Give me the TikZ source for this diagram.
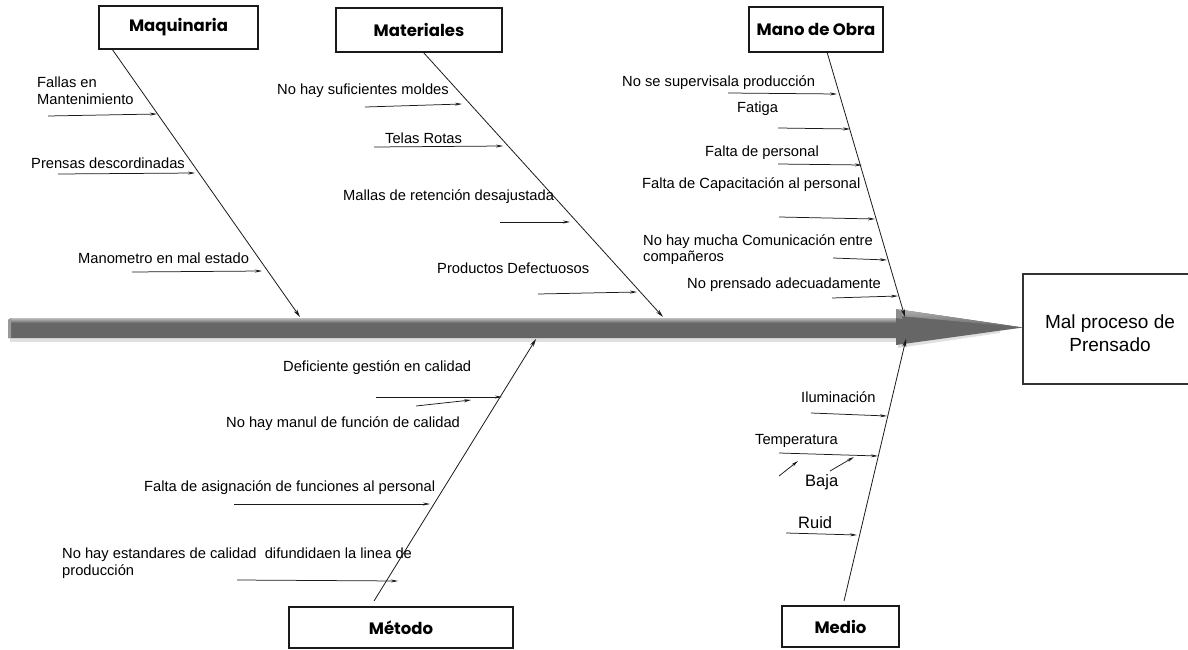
\documentclass[tikz,border=0pt]{standalone}
\usepackage{fontspec}
\setmainfont{Liberation Sans}
\newfontfamily\headfont{Poppins}
\usetikzlibrary{arrows.meta}
\definecolor{spinegray}{HTML}{666666}
\definecolor{inkline}{HTML}{1A1A1A}

\tikzset{
  catbox/.style={draw=inkline, line width=1.1pt, fill=white, inner sep=0pt,
    font=\headfont\bfseries\fontsize{16.5}{19}\selectfont},
  effectbox/.style={draw=black!80, line width=1.1pt, fill=white, inner sep=0pt,
    align=center, font=\fontsize{19}{22}\selectfont},
  bone/.style={draw=inkline, line width=0.8pt, -{Stealth[length=8pt,width=4pt]}},
  twig/.style={draw=inkline, line width=0.75pt, -{Stealth[length=7pt,width=3pt]}},
  cause/.style={inner sep=0pt, anchor=base west, font=\fontsize{14.7}{17}\selectfont},
  cause2/.style={inner sep=0pt, anchor=north west, align=left, font=\fontsize{14.7}{16.5}\selectfont},
  bigcause/.style={inner sep=0pt, anchor=base west, font=\fontsize{16.5}{19}\selectfont},
}

\begin{document}
\begin{tikzpicture}[x=1pt, y=-1pt]
\useasboundingbox (0,0) rectangle (1188,650);

% ---------- spine with arrow head ----------
\fill[black!12] (10,338) rectangle (897,342);
\fill[spinegray] (8,320) -- (11,318) -- (897,318) -- (897,338) -- (8,338) -- cycle;
\shade[top color=black!25, bottom color=spinegray] (11,318) rectangle (897,323);
\fill[black!40] (8,320) -- (11,318) -- (11,338) -- (8,338) -- cycle;
\fill[black!12] (898,340) -- (1000,331) -- (1000,333) -- (898,348) -- cycle;
\fill[spinegray] (896,309) -- (1023,327.5) -- (896,345) -- cycle;
\shade[top color=black!30, bottom color=spinegray] (896,309) -- (1023,327.5) -- (900,316) -- (896,316) -- cycle;
\fill[black!45] (896,309) -- (902,312) -- (902,319) -- (896,318) -- cycle;

% ---------- category boxes and effect ----------
\node[catbox, minimum width=159pt, minimum height=43pt] (maq) at (178.5,27.5) {Maquinaria};
\node[catbox, minimum width=166pt, minimum height=44pt] (mat) at (419,30) {Materiales};
\node[catbox, minimum width=134pt, minimum height=45pt] (mob) at (816,29.5) {Mano de Obra};
\node[catbox, minimum width=224pt, minimum height=41pt] (met) at (401,627.5) {Método};
\node[catbox, minimum width=117pt, minimum height=41pt] (med) at (840.5,626.5) {Medio};
\node[effectbox, minimum width=172pt, minimum height=110pt] (eff) at (1109,329) {};
\node[align=center, inner sep=0pt, font=\fontsize{19}{22}\selectfont] (efftxt) at (1110,333)
  {Mal proceso de\\[1pt]Prensado};

% ---------- bone ends ----------
\coordinate (maqA) at (112,49);   \coordinate (maqB) at (300,317);
\coordinate (matA) at (423,52);   \coordinate (matB) at (663,317);
\coordinate (mobA) at (827,52);   \coordinate (mobB) at (905,317);
\coordinate (metA) at (374,601);  \coordinate (metB) at (536,339);
\coordinate (medA) at (844,601);  \coordinate (medB) at (906,339);

\draw[bone] (maqA) -- (maqB);
\draw[bone] (matA) -- (matB);
\draw[bone] (mobA) -- (mobB);
\draw[bone] (metA) -- (metB);
\draw[bone] (medA) -- (medB);

% ---------- Maquinaria ----------
\node[cause2] (q1) at (37,77) {Fallas en\\Mantenimiento};
\node[cause] (q2) at (31,168) {Prensas descordinadas};
\node[cause] (q3) at (78,263) {Manometro en mal estado};
\coordinate (q1s) at (48,116);  \coordinate (q1e) at (157,114);
\coordinate (q2s) at (58,174);  \coordinate (q2e) at (195,173);
\coordinate (q3s) at (132,272); \coordinate (q3e) at (262,271);
\draw[twig] (q1s) -- (q1e);
\draw[twig] (q2s) -- (q2e);
\draw[twig] (q3s) -- (q3e);

% ---------- Materiales ----------
\node[cause] (m1) at (277,95) {No hay suficientes moldes};
\node[cause] (m2) at (385,143) {Telas Rotas};
\node[cause] (m3) at (343,200) {Mallas de retención desajustada};
\node[cause] (m4) at (437,273) {Productos Defectuosos};
\coordinate (m1s) at (365,107); \coordinate (m1e) at (462,104);
\coordinate (m2s) at (374,147); \coordinate (m2e) at (503,146);
\coordinate (m3s) at (500,222); \coordinate (m3e) at (570,222);
\coordinate (m4s) at (538,294); \coordinate (m4e) at (637,292);
\draw[twig] (m1s) -- (m1e);
\draw[twig] (m2s) -- (m2e);
\draw[twig] (m3s) -- (m3e);
\draw[twig] (m4s) -- (m4e);

% ---------- Mano de Obra ----------
\node[cause] (o1) at (622,87) {No se supervisala producción};
\node[cause] (o2) at (737,113) {Fatiga};
\node[cause] (o3) at (705,157) {Falta de personal};
\node[cause] (o4) at (642,188) {Falta de Capacitación al personal};
\node[cause2] (o5) at (643,234) {No hay mucha Comunicación entre\\compañeros};
\node[cause] (o6) at (687,288) {No prensado adecuadamente};
\coordinate (o1s) at (728,93);  \coordinate (o1e) at (837,94);
\coordinate (o2s) at (778,128); \coordinate (o2e) at (850,129);
\coordinate (o3s) at (778,164); \coordinate (o3e) at (862,165);
\coordinate (o4s) at (779,217); \coordinate (o4e) at (875,219);
\coordinate (o5s) at (833,258); \coordinate (o5e) at (887,260);
\coordinate (o6s) at (832,298); \coordinate (o6e) at (898,296);
\draw[twig] (o1s) -- (o1e);
\draw[twig] (o2s) -- (o2e);
\draw[twig] (o3s) -- (o3e);
\draw[twig] (o4s) -- (o4e);
\draw[twig] (o5s) -- (o5e);
\draw[twig] (o6s) -- (o6e);

% ---------- Método ----------
\node[cause] (t1) at (283,371) {Deficiente gestión en calidad};
\node[cause] (t2) at (226,427) {No hay manul de función de calidad};
\node[cause] (t3) at (144,491) {Falta de asignación de funciones al personal};
\node[cause2] (t4) at (62,548) {No hay estandares de calidad\ \ difundidaen la linea de\\producción};
\coordinate (t1s) at (376,397); \coordinate (t1e) at (502,397);
\coordinate (t2s) at (416,406); \coordinate (t2e) at (471,400);
\coordinate (t3s) at (234,504); \coordinate (t3e) at (430,504);
\coordinate (t4s) at (237,580); \coordinate (t4e) at (398,581);
\draw[twig] (t1s) -- (t1e);
\draw[twig] (t2s) -- (t2e);
\draw[twig] (t3s) -- (t3e);
\draw[twig] (t4s) -- (t4e);

% ---------- Medio ----------
\node[cause] (d1) at (801,402) {Iluminación};
\node[cause] (d2) at (755,444) {Temperatura};
\node[bigcause] (d3) at (805,486) {Baja};
\node[bigcause] (d4) at (798,528) {Ruid};
\coordinate (d1s) at (811,413); \coordinate (d1e) at (887,416);
\coordinate (d2s) at (779,453); \coordinate (d2e) at (878,456);
\coordinate (d3s) at (779,476); \coordinate (d3e) at (798,461);
\coordinate (d4s) at (830,471); \coordinate (d4e) at (854,457);
\coordinate (d5s) at (786,533); \coordinate (d5e) at (857,535);
\draw[twig] (d1s) -- (d1e);
\draw[twig] (d2s) -- (d2e);
\draw[twig] (d3s) -- (d3e);
\draw[twig] (d4s) -- (d4e);
\draw[twig] (d5s) -- (d5e);
\end{tikzpicture}
\end{document}
